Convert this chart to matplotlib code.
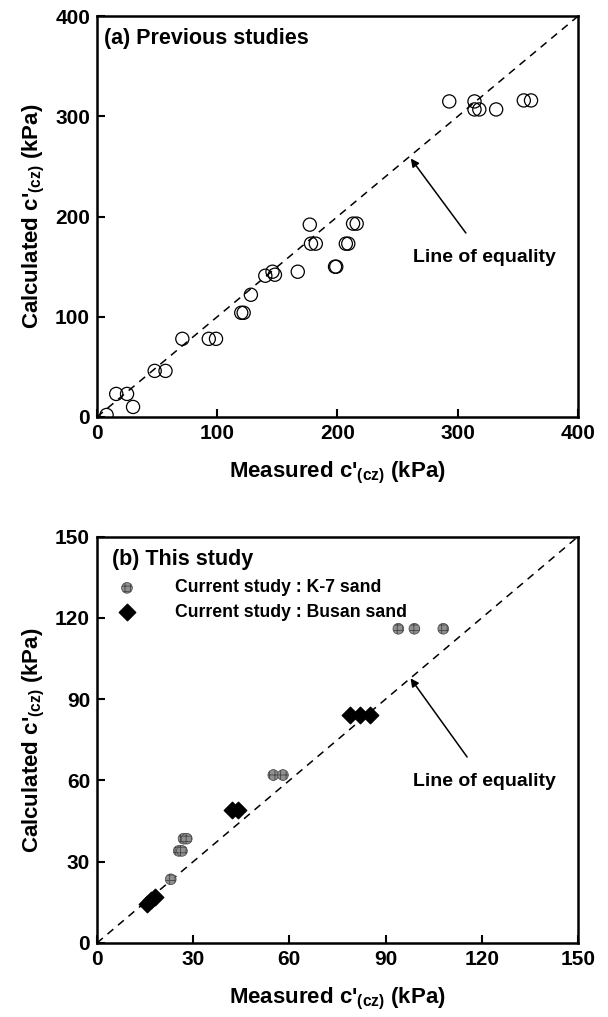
import numpy as np
import matplotlib.pyplot as plt

plt.rcParams['font.family'] = ['Liberation Sans', 'DejaVu Sans']
plt.rcParams['font.weight'] = 'bold'
plt.rcParams['mathtext.fontset'] = 'custom'
plt.rcParams['mathtext.rm'] = 'Liberation Sans:bold'
plt.rcParams['mathtext.bf'] = 'Liberation Sans:bold'
plt.rcParams['hatch.linewidth'] = 0.6

# (a) previous studies
prev_measured = [8, 16, 25, 30, 48, 57, 71, 93, 99, 120, 122, 128, 140, 146, 148,
                 167, 177, 178, 182, 198, 199, 207, 209, 213, 216,
                 293, 314, 314, 318, 332, 355, 361]
prev_calc = [2, 23, 23, 10, 46, 46, 78, 78, 78, 104, 104, 122, 141, 145, 142,
             145, 192, 173, 173, 150, 150, 173, 173, 193, 193,
             315, 315, 307, 307, 307, 316, 316]

# (b) this study
k7_measured = [94, 99, 108, 55, 58, 27, 28, 25.5, 26.5, 23]
k7_calc = [116, 116, 116, 62, 62, 38.5, 38.5, 34, 34, 23.5]
busan_measured = [79, 82, 85, 42, 44, 15.5, 17, 18]
busan_calc = [84, 84, 84, 49, 49, 14.5, 16, 17]

xlab = "Measured c'$_{\\mathbf{(cz)}}$ (kPa)"
ylab = "Calculated c'$_{\\mathbf{(cz)}}$ (kPa)"

fig = plt.figure(figsize=(6.08, 10.17), dpi=100)
ax1 = fig.add_axes([0.1595, 0.59, 0.791, 0.394])
ax2 = fig.add_axes([0.1595, 0.0728, 0.791, 0.3995])


def style(ax, lim, step):
    ax.set_xlim(0, lim)
    ax.set_ylim(0, lim)
    ax.set_xticks(np.arange(0, lim + 1, step))
    ax.set_yticks(np.arange(0, lim + 1, step))
    ax.tick_params(direction='in', length=6, width=1.5, labelsize=15, pad=5)
    for s in ax.spines.values():
        s.set_linewidth(1.8)
    ax.set_xlabel(xlab, fontsize=16, fontweight='bold', labelpad=12)
    ax.set_ylabel(ylab, fontsize=16, fontweight='bold', labelpad=6)
    ax.plot([0, lim], [0, lim], 'k--', lw=1.1, dashes=(5, 4))


style(ax1, 400, 100)
ax1.scatter(prev_measured, prev_calc, s=90, facecolors='none', edgecolors='k', linewidths=0.9, zorder=3)
ax1.text(6, 378, '(a) Previous studies', fontsize=15.5, fontweight='bold', va='center')
ax1.annotate('Line of equality', xy=(261, 258), xytext=(322, 159), fontsize=14,
             fontweight='bold', ha='center', va='center',
             arrowprops=dict(arrowstyle='-|>', color='k', lw=1.1, shrinkA=12, shrinkB=0,
                             mutation_scale=12))

style(ax2, 150, 30)
ax2.scatter(k7_measured, k7_calc, s=60, marker='o', facecolors='#8f8f8f', edgecolors='#444444',
            hatch='+++', linewidths=0.5, zorder=3, label='Current study : K-7 sand')
ax2.scatter(busan_measured, busan_calc, s=70, marker='D', color='k', zorder=3,
            label='Current study : Busan sand')
ax2.text(4.8, 141.5, '(b) This study', fontsize=15.5, fontweight='bold', va='center')
ax2.legend(loc='upper left', bbox_to_anchor=(0.0, 0.925), frameon=False, fontsize=12.7,
           handletextpad=1.7, labelspacing=0.4, borderaxespad=0.3)
ax2.annotate('Line of equality', xy=(97.8, 97.7), xytext=(121, 59.5), fontsize=14,
             fontweight='bold', ha='center', va='center',
             arrowprops=dict(arrowstyle='-|>', color='k', lw=1.1, shrinkA=12, shrinkB=0,
                             mutation_scale=12))

fig.savefig('out.png', dpi=100)
